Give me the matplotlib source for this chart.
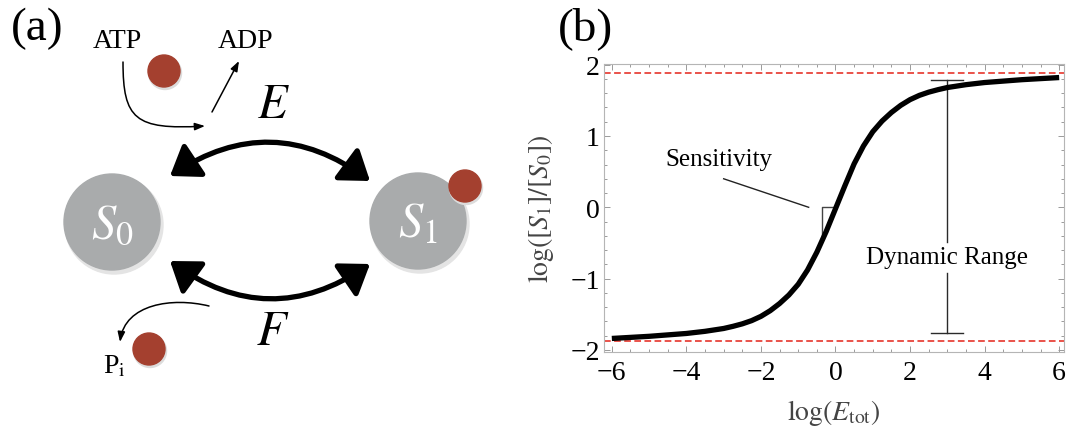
import matplotlib
matplotlib.use('Agg')
import matplotlib.pyplot as plt
from matplotlib.patches import Circle, FancyArrowPatch
from matplotlib.path import Path
from matplotlib.ticker import MultipleLocator

plt.rcParams['font.family'] = ['Liberation Serif', 'DejaVu Serif']
plt.rcParams['mathtext.fontset'] = 'stix'

# ---------------- data for panel (b) ----------------
log_E = [-6, -5, -4, -3.5, -3, -2.75, -2.5, -2.25, -2, -1.75, -1.5, -1.25, -1, -0.75, -0.5, -0.25, 0,
         0.25, 0.5, 0.75, 1, 1.25, 1.5, 1.75, 2, 2.25, 2.5, 2.75, 3, 3.5, 4, 5, 6]
log_ratio = [-1.84, -1.81, -1.77, -1.74, -1.70, -1.67, -1.635, -1.59, -1.53, -1.45, -1.35, -1.23,
             -1.08, -0.88, -0.63, -0.34, -0.02,
             0.30, 0.61, 0.86, 1.06, 1.21, 1.33, 1.43, 1.51, 1.57, 1.615, 1.65, 1.68, 1.72, 1.75,
             1.79, 1.82]
upper_bound = 1.88
lower_bound = -1.88
range_x = 3.0
range_top = 1.78
range_bottom = -1.77
range_gap = (-0.92, -0.48)
sens_tri_x = [-0.03, -0.375, -0.375]
sens_tri_y = [0.0, 0.0, -0.46]
sens_line_x = [-3.0, -0.72]
sens_line_y = [0.40, 0.0]
x_ticks = [-6, -4, -2, 0, 2, 4, 6]
y_ticks = [-2, -1, 0, 1, 2]

W, H = 1066, 427
fig = plt.figure(figsize=(W / 100, H / 100), dpi=100)

# ---------------- panel (a): schematic ----------------
axa = fig.add_axes([0, 0, 533 / W, 1])
axa.set_xlim(0, 533)
axa.set_ylim(H, 0)
axa.axis('off')

grey = '#a9abac'
red = '#a4402f'
for (cx, cy) in [(112, 223), (418, 222)]:
    axa.add_patch(Circle((cx + 2, cy + 3), 49, color='#e4e4e4', zorder=1))
    axa.add_patch(Circle((cx, cy), 48, color=grey, zorder=2))
for (cx, cy) in [(164, 72), (465, 187), (149, 350)]:
    axa.add_patch(Circle((cx + 1, cy + 2), 16.5, color='#dcdcdc', zorder=3))
    axa.add_patch(Circle((cx, cy), 16, color=red, zorder=4))

axa.text(112, 226, r'$S_0$', color='white', fontsize=35, ha='center', va='center', zorder=5)
axa.text(418, 225, r'$S_1$', color='white', fontsize=35, ha='center', va='center', zorder=5)

axa.text(117, 42, 'ATP', fontsize=20, ha='center', va='center')
axa.text(246, 42, 'ADP', fontsize=20, ha='center', va='center')
axa.text(273, 106, r'$E$', fontsize=35, ha='center', va='center')
axa.text(273, 333, r'$F$', fontsize=35, ha='center', va='center')
axa.text(114, 367, r'P$_{\mathrm{i}}$', fontsize=20, ha='center', va='center')

big = '<|-|>,head_length=0.85,head_width=0.6'
for (p0, p1, rad) in [((170, 177), (370, 182), -0.35), ((170, 262), (370, 265), 0.35)]:
    axa.add_patch(FancyArrowPatch(p0, p1, arrowstyle=big, mutation_scale=20,
                                  connectionstyle=f'arc3,rad={rad}', lw=3.8,
                                  color='black', shrinkA=0, shrinkB=0, zorder=6))

C4 = [Path.MOVETO, Path.CURVE4, Path.CURVE4, Path.CURVE4]
thin = '-|>,head_length=0.6,head_width=0.22'
atp_path = Path([(123, 63), (123, 120), (135, 131), (205, 127)], C4)
axa.add_patch(FancyArrowPatch(path=atp_path, arrowstyle=thin, mutation_scale=10,
                              lw=1.1, color='black', zorder=6))
axa.add_patch(FancyArrowPatch((212, 113), (239, 62), arrowstyle=thin, mutation_scale=10,
                              lw=1.1, color='black', shrinkA=0, shrinkB=0, zorder=6))
pi_path = Path([(209, 307), (172, 298), (125, 305), (120, 343)], C4)
axa.add_patch(FancyArrowPatch(path=pi_path, arrowstyle=thin, mutation_scale=10,
                              lw=1.1, color='black', zorder=6))

fig.text(37 / W, 1 - 29 / H, '(a)', fontsize=34, ha='center', va='center')
fig.text(586 / W, 1 - 29 / H, '(b)', fontsize=34, ha='center', va='center')

# ---------------- panel (b): response curve ----------------
axb = fig.add_axes([604 / W, 1 - 353 / H, 460 / W, 288 / H])
axb.set_xlim(-6.21, 6.13)
axb.set_ylim(-2.03, 2.01)

axb.axhline(upper_bound, color='#e8443c', lw=1.3, ls=(0, (3.7, 1.9)))
axb.axhline(lower_bound, color='#e8443c', lw=1.3, ls=(0, (3.7, 1.9)))
axb.plot(log_E, log_ratio, color='black', lw=3.8, solid_capstyle='butt', solid_joinstyle='round', zorder=5)

ec = '#2a2a2a'
axb.plot([range_x, range_x], [range_gap[1], range_top], color=ec, lw=1.0)
axb.plot([range_x, range_x], [range_bottom, range_gap[0]], color=ec, lw=1.0)
for yy in (range_top, range_bottom):
    axb.plot([range_x - 0.43, range_x + 0.43], [yy, yy], color=ec, lw=1.0)
axb.text(range_x, -0.70, 'Dynamic Range', fontsize=18, ha='center', va='center')

axb.plot(sens_tri_x, sens_tri_y, color='#444444', lw=1.0, zorder=4)
axb.plot(sens_line_x, sens_line_y, color='#222222', lw=1.0)
axb.text(-3.12, 0.68, 'Sensitivity', fontsize=18, ha='center', va='center')

axb.set_xticks(x_ticks)
axb.set_yticks(y_ticks)
axb.xaxis.set_minor_locator(MultipleLocator(0.5))
axb.yaxis.set_minor_locator(MultipleLocator(0.2))
axb.tick_params(which='both', direction='in', top=True, right=True, color='#9a9a9a', width=0.7)
axb.tick_params(which='major', length=4.5, labelsize=20)
axb.tick_params(which='minor', length=2.5)
axb.tick_params(axis='x', which='major', pad=6)
axb.tick_params(axis='y', which='major', pad=3)
for s in axb.spines.values():
    s.set_color('#b5b5b5')
    s.set_linewidth(0.8)

axb.set_xlabel(r'$\log(E_{\mathrm{tot}})$', fontsize=20, color='#444444')
axb.set_ylabel(r'$\log([S_1]/[S_0])$', fontsize=20, color='#444444')
axb.xaxis.set_label_coords(0.5, -0.155)
axb.yaxis.set_label_coords(-0.105, 0.5)

fig.savefig('out.png', dpi=100, facecolor='white')
